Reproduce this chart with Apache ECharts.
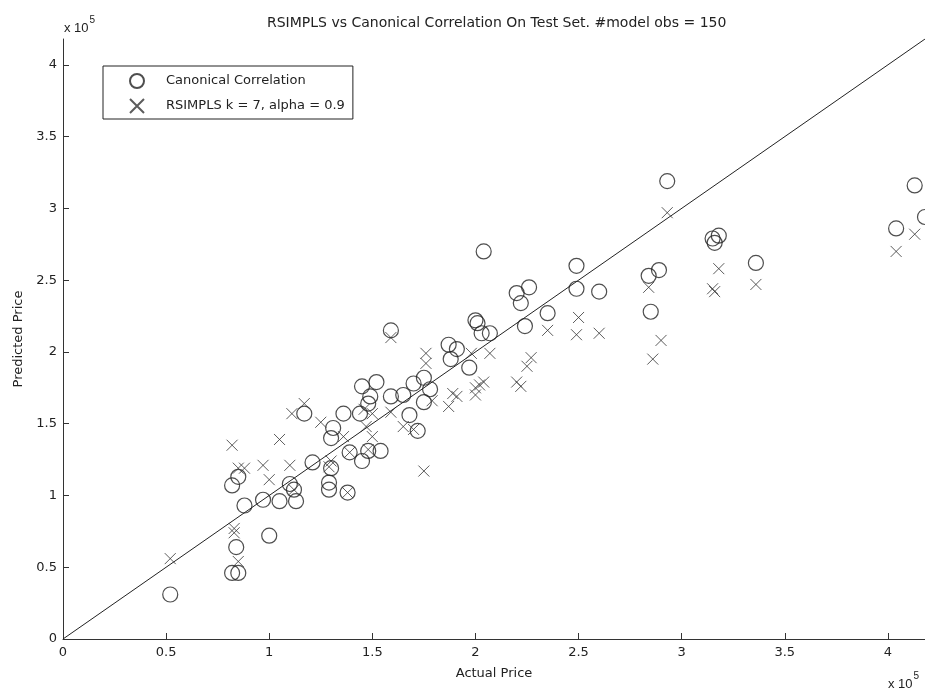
<!DOCTYPE html>
<html>
<head>
<meta charset="utf-8">
<script src="https://cdn.jsdelivr.net/npm/echarts@6/dist/echarts.min.js"></script>
<style>
  html, body { margin: 0; padding: 0; background: #fff; }
  #main { width: 925px; height: 691px; }
</style>
</head>
<body>
<div id="main"></div>
<script>
// actual vs predicted price, [actual, predicted]
var canonical = [
  [52000, 31000], [82000, 46000], [85000, 46000], [84000, 64000], [88000, 93000], [100000, 72000],
  [82000, 107000], [85000, 113000], [97000, 97000], [105000, 96000], [113000, 96000], [110000, 108000],
  [112000, 104000], [117000, 157000], [121000, 123000], [129000, 109000], [129000, 104000], [138000, 102000],
  [130000, 119000], [139000, 130000], [145000, 124000], [148000, 131000], [154000, 131000], [130000, 140000],
  [131000, 147000], [136000, 157000], [144000, 157000], [148000, 164000], [145000, 176000], [152000, 179000],
  [149000, 169000], [159000, 169000], [165000, 170000], [170000, 178000], [175000, 182000], [175000, 165000],
  [178000, 174000], [168000, 156000], [172000, 145000], [159000, 215000], [187000, 205000], [191000, 202000],
  [188000, 195000], [197000, 189000], [200000, 222000], [201000, 220000], [203000, 213000], [207000, 213000],
  [204000, 270000], [220000, 241000], [226000, 245000], [222000, 234000], [224000, 218000], [235000, 227000],
  [249000, 260000], [249000, 244000], [260000, 242000], [284000, 253000], [289000, 257000], [285000, 228000],
  [293000, 319000], [315000, 279000], [318000, 281000], [316000, 276000], [336000, 262000], [404000, 286000],
  [413000, 316000], [418000, 294000]
];
var rsimpls = [
  [52000, 56000], [83000, 77000], [83000, 74000], [85000, 54000], [82000, 135000], [85000, 119000],
  [88000, 119000], [97000, 121000], [100000, 111000], [105000, 139000], [110000, 121000], [111000, 157000],
  [117000, 164000], [112000, 104000], [125000, 151000], [130000, 124000], [129000, 120000], [139000, 130000],
  [136000, 141000], [147000, 148000], [150000, 141000], [146000, 160000], [150000, 157000], [159000, 158000],
  [165000, 148000], [170000, 146000], [148000, 132000], [138000, 102000], [159000, 210000], [175000, 117000],
  [176000, 199000], [176000, 192000], [179000, 166000], [187000, 162000], [189000, 171000], [191000, 169000],
  [198000, 199000], [207000, 199000], [200000, 175000], [200000, 170000], [202000, 177000], [204000, 179000],
  [220000, 179000], [222000, 176000], [227000, 196000], [225000, 190000], [235000, 215000], [250000, 224000],
  [249000, 212000], [260000, 213000], [284000, 245000], [286000, 195000], [290000, 208000], [293000, 297000],
  [318000, 258000], [315000, 244000], [316000, 242000], [336000, 247000], [404000, 270000], [413000, 282000]
];
var idealLine = [[0, 0], [418000, 418000]];
var tickValues = [0, 50000, 100000, 150000, 200000, 250000, 300000, 350000, 400000];
var axisMax = 418000;

var myChart = echarts.init(document.getElementById('main'));
var font = "'DejaVu Sans', Verdana, sans-serif";
var ink = '#222';

function axisCommon(name) {
  return {
    type: 'value',
    min: 0,
    max: axisMax,
    name: name,
    nameLocation: 'middle',
    nameTextStyle: { color: ink, fontFamily: font, fontSize: 13 },
    splitLine: { show: false },
    axisLine: { show: true, lineStyle: { color: '#333', width: 1 } },
    axisTick: { show: true, inside: true, length: 6, customValues: tickValues, lineStyle: { color: '#333' } },
    axisLabel: {
      customValues: tickValues,
      color: ink, fontFamily: font, fontSize: 13,
      formatter: function (v) { return String(v / 100000); }
    }
  };
}

var xAxis = axisCommon('Actual Price');
xAxis.nameGap = 28;
xAxis.axisLabel.margin = 7;
var yAxis = axisCommon('Predicted Price');
yAxis.nameGap = 38;
yAxis.axisLabel.margin = 6;

// "x 10^5" exponent notes
var sup = {
  a: { fontFamily: "'Liberation Sans', Arial, sans-serif", fontSize: 13, fill: ink, verticalAlign: 'bottom' },
  b: { fontFamily: "'Liberation Sans', Arial, sans-serif", fontSize: 10, fill: ink, verticalAlign: 'top', padding: [0, 0, 10, 1] }
};

var option = {
  animation: false,
  backgroundColor: '#fff',
  title: {
    text: 'RSIMPLS vs Canonical Correlation On Test Set. #model obs = 150',
    left: 262,
    top: 11,
    textStyle: { color: ink, fontFamily: font, fontSize: 14, fontWeight: 'normal' }
  },
  grid: { left: 63, right: 0, top: 39, bottom: 52 },
  legend: {
    orient: 'vertical',
    left: 103,
    top: 66,
    padding: [7, 8, 5, 26],
    itemWidth: 48,
    itemHeight: 14,
    itemGap: 9,
    borderColor: '#222',
    borderWidth: 1,
    textStyle: { color: ink, fontFamily: font, fontSize: 13 },
    data: ['Canonical Correlation', 'RSIMPLS k = 7, alpha = 0.9']
  },
  xAxis: xAxis,
  yAxis: yAxis,
  graphic: [
    { type: 'text', left: 64, top: 15, style: { text: '{a|x 10}{b|5}', rich: sup } },
    { type: 'text', left: 888, top: 671, style: { text: '{a|x 10}{b|5}', rich: sup } }
  ],
  series: [
    {
      name: 'ideal',
      type: 'line',
      data: idealLine,
      symbol: 'none',
      silent: true,
      lineStyle: { color: '#222', width: 1 }
    },
    {
      name: 'Canonical Correlation',
      type: 'scatter',
      data: canonical,
      symbol: 'circle',
      symbolSize: 15,
      itemStyle: { color: 'transparent', borderColor: '#222', borderWidth: 1.2 }
    },
    {
      name: 'RSIMPLS k = 7, alpha = 0.9',
      type: 'scatter',
      data: rsimpls,
      symbol: 'path://M0,0L10,10M10,0L0,10',
      symbolSize: 11,
      itemStyle: { color: 'transparent', borderColor: '#333', borderWidth: 1 }
    }
  ]
};

myChart.setOption(option);
</script>
</body>
</html>
